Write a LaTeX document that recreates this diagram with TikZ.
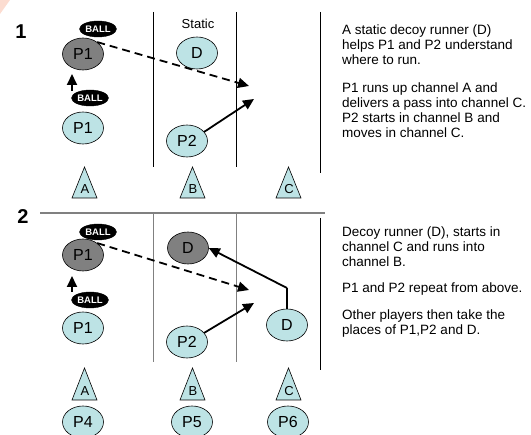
\documentclass[tikz,border=0pt]{standalone}
\usepackage{fontspec}
\setmainfont{Liberation Sans}
\usetikzlibrary{shapes.geometric,arrows.meta}
\definecolor{cyanfill}{HTML}{BDE3E5}
\definecolor{greyfill}{HTML}{808080}
\definecolor{peach}{HTML}{FCDCD0}
\begin{document}
\begin{tikzpicture}[x=1pt,y=-1pt,
  player/.style={ellipse,draw=black,line width=0.6pt,fill=cyanfill,minimum width=41pt,minimum height=32pt,inner sep=0pt,font=\fontsize{16}{18}\selectfont},
  gplayer/.style={player,fill=greyfill},
  ball/.style={ellipse,fill=black,draw=black,minimum width=37pt,minimum height=16pt,inner sep=0pt,text=white,font=\bfseries\fontsize{9.5}{10}\selectfont},
  run/.style={line width=1.8pt,-{Triangle[length=11pt,width=10pt]}},
  pass/.style={run,dash pattern=on 8pt off 5pt},
  chan/.style={line width=0.7pt},
  chang/.style={line width=0.7pt,draw=gray},
  cone/.style={draw=black,line width=0.6pt,fill=cyanfill},
  conelbl/.style={inner sep=0pt,font=\fontsize{13}{15}\selectfont},
  num/.style={inner sep=0pt,font=\bfseries\fontsize{20}{22}\selectfont},
  note/.style={inner sep=0pt,anchor=base west,align=left,font=\fontsize{13.5}{15}\selectfont}
]
\useasboundingbox (0,0) rectangle (531,435);
\fill[peach] (0,0) -- (10,0) -- (0,14) -- cycle;

% ---------- section 1 ----------
\node[num] (n1) at (21,32) {1};
\coordinate (l1a) at (153,12); \coordinate (l1b) at (153,167);
\coordinate (l2a) at (236,12); \coordinate (l2b) at (236,167);
\coordinate (l3a) at (320,12); \coordinate (l3b) at (320,173);
\draw[chan] (l1a) -- (l1b);
\draw[chan] (l2a) -- (l2b);
\draw[chan] (l3a) -- (l3b);

\node[inner sep=0pt,font=\fontsize{13}{15}\selectfont] (static) at (198,24) {Static};
\node[player] (dA) at (197,53) {D};
\node[gplayer] (p1topA) at (83,54) {P1};
\node[ball] (ballA) at (98,29) {BALL};
\node[player] (p1botA) at (83,128) {P1};
\node[ball] (ball2A) at (90,98) {BALL};
\node[player] (p2A) at (187,141) {P2};
\coordinate (t1A) at (249,86);
\coordinate (t2A) at (254,99);
\coordinate (upsA) at (72,91);
\coordinate (upeA) at (72,74);
\draw[run] (upsA) -- (upeA);
\draw[pass] (p1topA.40) -- (t1A);
\draw[run] (p2A.28) -- (t2A);

\draw[cone] (72,198) -- (84.5,167) -- (97,198) -- cycle;
\node[conelbl] (cA1) at (85,189) {A};
\draw[cone] (180,198) -- (192.5,167) -- (205,198) -- cycle;
\node[conelbl] (cB1) at (193,189) {B};
\draw[cone] (276,198) -- (288.5,167) -- (301,198) -- cycle;
\node[conelbl] (cC1) at (289,189) {C};

\node[note] (txt1) at (342,65) {A static decoy runner (D)\\helps P1 and P2 understand\\where to run.};
\node[note] (txt2) at (342,138) {P1 runs up channel A and\\delivers a pass into channel C.\\P2 starts in channel B and\\moves in channel C.};

% ---------- section 2 ----------
\node[num] (n2) at (23,217) {2};
\draw[line width=1.2pt,draw=gray] (40,213) -- (325,213);
\draw[chang] (153,213) -- (153,362);
\draw[chang] (236,213) -- (236,362);
\draw[chan] (320,218) -- (320,370);

\node[gplayer] (dB) at (188,248) {D};
\node[gplayer] (p1topB) at (83,255) {P1};
\node[ball] (ballB) at (98,232) {BALL};
\node[player] (p1botB) at (83,328) {P1};
\node[ball] (ball2B) at (90,300) {BALL};
\node[player] (p2B) at (187,342) {P2};
\node[player] (dRB) at (287,325) {D};
\coordinate (t1B) at (249,290);
\coordinate (t2B) at (254,303);
\coordinate (bendB) at (287,288);
\coordinate (upsB) at (72,292);
\coordinate (upeB) at (72,276);
\draw[run] (upsB) -- (upeB);
\draw[pass] (p1topB.40) -- (t1B);
\draw[run] (p2B.28) -- (t2B);
\draw[line width=2.8pt] (dRB.north) -- (bendB);
\draw[run] (bendB) -- (dB.east);

\draw[cone] (72,400) -- (84.5,368) -- (97,400) -- cycle;
\node[conelbl] (cA2) at (85,391) {A};
\draw[cone] (180,400) -- (192.5,368) -- (205,400) -- cycle;
\node[conelbl] (cB2) at (193,391) {B};
\draw[cone] (276,400) -- (288.5,368) -- (301,400) -- cycle;
\node[conelbl] (cC2) at (289,391) {C};

\node[player] (p4) at (83,422) {P4};
\node[player] (p5) at (192,422) {P5};
\node[player] (p6) at (288,422) {P6};

\node[note] (txt3) at (342,267) {Decoy runner (D), starts in\\channel C and runs into\\channel B.};
\node[note] (txt4) at (342,293) {P1 and P2 repeat from above.};
\node[note] (txt5) at (342,335) {Other players then take the\\places of P1,P2 and D.};
\end{tikzpicture}
\end{document}
